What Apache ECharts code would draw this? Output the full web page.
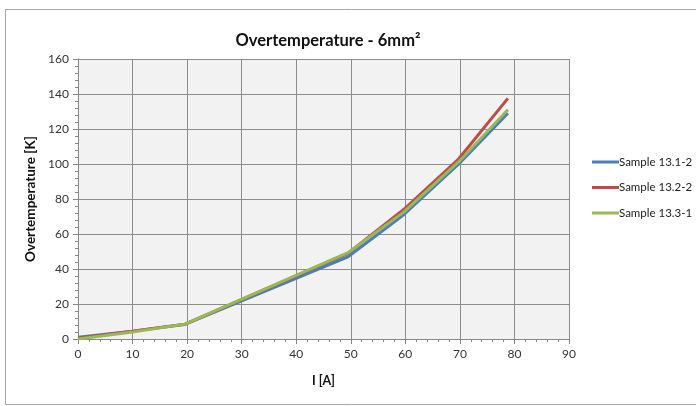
<!DOCTYPE html>
<html>
<head>
<meta charset="utf-8">
<script src="https://cdn.jsdelivr.net/npm/echarts@6/dist/echarts.min.js"></script>
<style>
  html, body { margin: 0; padding: 0; background: #fff; }
  #mainChart { width: 696px; height: 406px; }
</style>
</head>
<body>
<div id="mainChart"></div>
<script>
// current [A]
const currents = [0, 10, 19.6, 49.5, 59.7, 69.8, 78.8];
// overtemperature [K]
const sample131 = [1, 4.5, 8.3, 47, 71, 100, 129];
const sample132 = [0.5, 4.5, 8.5, 49, 74, 103, 137.5];
const sample133 = [0, 4, 8.5, 49.3, 72.5, 101.3, 131];
const seriesNames = ["Sample 13.1-2", "Sample 13.2-2", "Sample 13.3-1"];
const seriesColors = ["#4a7ebb", "#be4b48", "#98b954"];

const font = "Lato, 'Noto Sans', sans-serif";

function pairs(vals) {
  return currents.map((x, i) => [x, vals[i]]);
}

const chart = echarts.init(document.getElementById("mainChart"));
const option = {
  animation: false,
  textStyle: { fontFamily: font },
  title: {
    text: "Overtemperature - 6mm²",
    left: 323,
    top: 27,
    textAlign: "center",
    textStyle: { fontSize: 16.5, fontWeight: "bold", color: "#111", fontFamily: font }
  },
  // 外框
  graphic: [
    {
      type: "rect",
      shape: { x: 5.5, y: 9.5, width: 720, height: 395 },
      style: { fill: null, stroke: "#a6a6a6", lineWidth: 1 },
      silent: true
    }
  ],
  legend: {
    orient: "vertical",
    left: 592,
    top: 156,
    padding: 0,
    itemWidth: 27,
    itemHeight: 3,
    itemGap: 13.5,
    icon: "rect",
    textStyle: { fontSize: 11.5, color: "#222", padding: [0, 0, 0, -5] },
    data: seriesNames
  },
  grid: {
    left: 78,
    top: 59,
    right: 127,
    bottom: 67,
    show: true,
    backgroundColor: "#f2f2f2",
    borderWidth: 0
  },
  xAxis: {
    type: "value",
    min: 0,
    max: 90,
    interval: 10,
    name: "I [A]",
    nameLocation: "middle",
    nameGap: 35,
    nameTextStyle: { fontSize: 12.5, fontWeight: "bold", color: "#111" },
    axisLine: { show: true, lineStyle: { color: "#868686" } },
    axisTick: { show: true, inside: false, length: 5, lineStyle: { color: "#868686" } },
    minorTick: { show: true, splitNumber: 5, length: 3, lineStyle: { color: "#868686" } },
    axisLabel: { fontSize: 12, color: "#333", margin: 9 },
    splitLine: { show: true, lineStyle: { color: "#8c8c8c", width: 1 } }
  },
  yAxis: {
    type: "value",
    min: 0,
    max: 160,
    interval: 20,
    name: "Overtemperature [K]",
    nameLocation: "middle",
    nameGap: 40,
    nameTextStyle: { fontSize: 13.5, fontWeight: "bold", color: "#111" },
    axisLine: { show: true, lineStyle: { color: "#868686" } },
    axisTick: { show: true, inside: false, length: 5, lineStyle: { color: "#868686" } },
    minorTick: { show: true, splitNumber: 5, length: 3, lineStyle: { color: "#868686" } },
    axisLabel: { fontSize: 12, color: "#333", margin: 9 },
    splitLine: { show: true, lineStyle: { color: "#8c8c8c", width: 1 } }
  },
  color: seriesColors,
  series: [sample131, sample132, sample133].map((vals, i) => ({
    name: seriesNames[i],
    type: "line",
    data: pairs(vals),
    showSymbol: false,
    lineStyle: { width: 3, color: seriesColors[i] }
  }))
};
chart.setOption(option);
</script>
</body>
</html>
